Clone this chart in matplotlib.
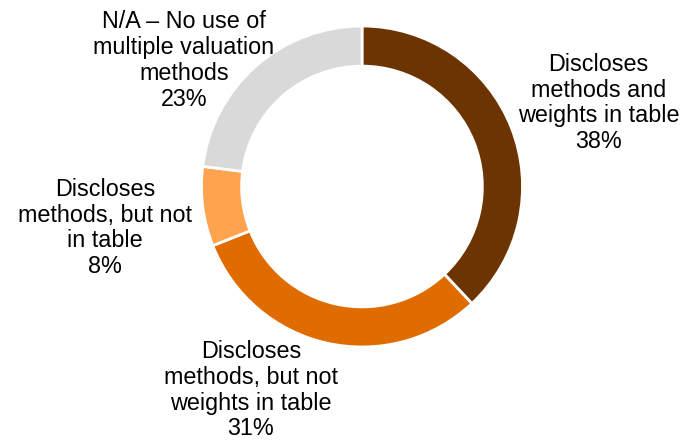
import matplotlib
matplotlib.use("Agg")
import matplotlib.pyplot as plt

plt.rcParams["font.family"] = ["Liberation Sans", "DejaVu Sans"]

LABELS = [
    "Discloses\nmethods and\nweights in table",
    "Discloses\nmethods, but not\nweights in table",
    "Discloses\nmethods, but not\nin table",
    "N/A \u2013 No use of\nmultiple valuation\nmethods",
]
VALUES = [38, 31, 8, 23]
COLORS = ["#6B3400", "#E06C00", "#FFA34F", "#D9D9D9"]

# label block centres, in units of the outer radius
LABEL_POS = [(1.473, 0.52), (-0.692, -1.27), (-1.60, -0.258), (-1.11, 0.785)]

W, H, DPI = 686, 443, 100
CX, CY, R = 362, 186.5, 160.5

fig = plt.figure(figsize=(W / DPI, H / DPI), dpi=DPI)
ax = fig.add_axes([0, 0, 1, 1])

ax.pie(
    VALUES,
    colors=COLORS,
    startangle=90,
    counterclock=False,
    radius=1,
    wedgeprops=dict(width=0.25, edgecolor="white", linewidth=2),
)

for lab, val, (x, y) in zip(LABELS, VALUES, LABEL_POS):
    ax.text(
        x, y, f"{lab}\n{val}%",
        ha="center", va="center", fontsize=16.8,
        linespacing=1.15, color="black",
    )

ax.set_aspect("auto")
ax.set_xlim(-CX / R, (W - CX) / R)
ax.set_ylim(-(H - CY) / R, CY / R)
ax.axis("off")

fig.savefig("out.png", dpi=DPI)
